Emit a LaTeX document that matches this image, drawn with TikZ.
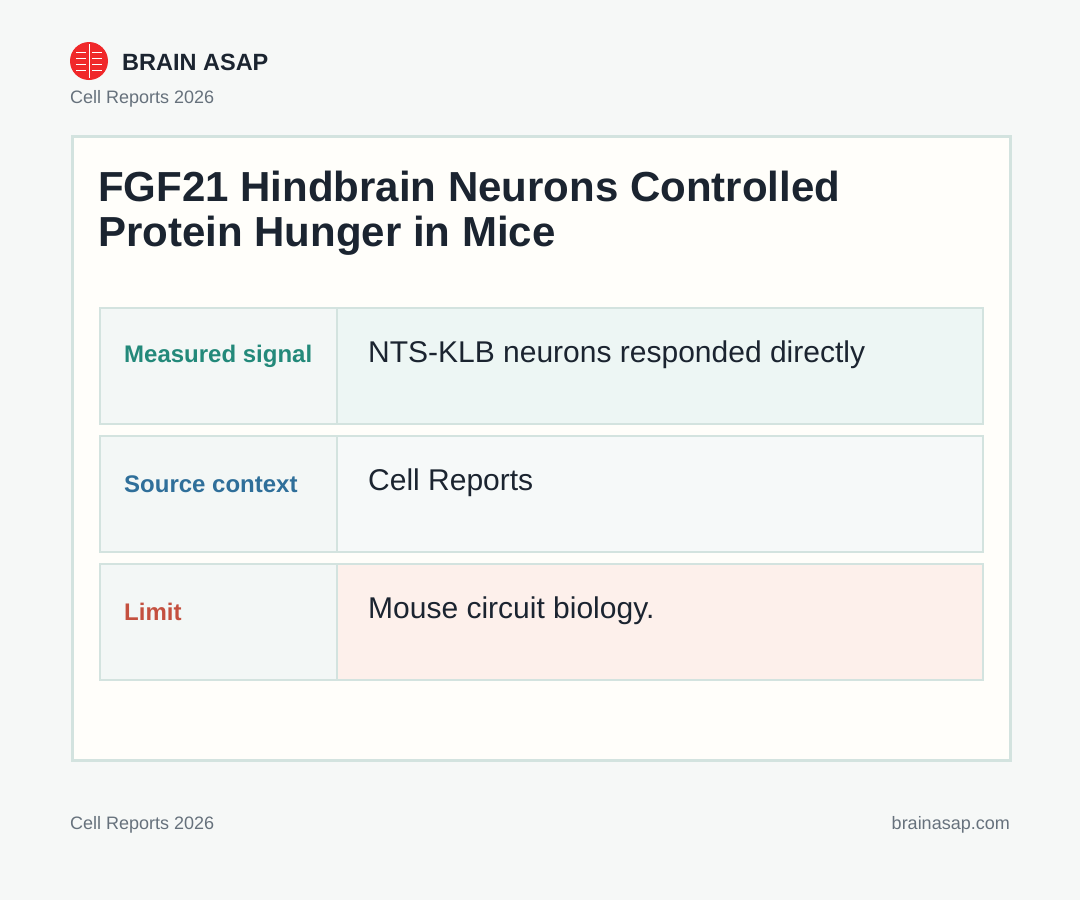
\documentclass[tikz,border=0pt]{standalone}
\usepackage{fontspec}
\setmainfont{Liberation Sans}
\usetikzlibrary{positioning}
\definecolor{pagebg}{HTML}{F6F8F7}
\definecolor{cardbg}{HTML}{FFFEFA}
\definecolor{edge}{HTML}{D3E3DF}
\definecolor{ink}{HTML}{1B2430}
\definecolor{grey}{HTML}{66717C}
\definecolor{teal}{HTML}{23897A}
\definecolor{blue}{HTML}{2F6F9A}
\definecolor{rust}{HTML}{C4503F}
\definecolor{labbg}{HTML}{F3F7F6}
\definecolor{tealbg}{HTML}{EDF6F4}
\definecolor{bluebg}{HTML}{F6F9F9}
\definecolor{rustbg}{HTML}{FDF0EB}
\definecolor{brainred}{HTML}{F0282A}
\begin{document}
\begin{tikzpicture}[x=1pt, y=-1pt,
  labcell/.style = {draw=edge, line width=1.5pt, fill=labbg, minimum width=237pt, minimum height=116pt, anchor=north west, inner sep=0pt},
  valcell/.style = {draw=edge, line width=1.5pt, minimum width=646pt, minimum height=116pt, anchor=north west, inner sep=0pt},
  labtext/.style = {font=\fontsize{24}{28}\selectfont\bfseries, anchor=west, inner sep=0pt},
  valtext/.style = {font=\fontsize{30}{36}\selectfont, text=ink, anchor=west, inner sep=0pt},
  small/.style = {font=\fontsize{18}{22}\selectfont, text=grey}]
  \fill[pagebg] (0,0) rectangle (1080,900);
  \useasboundingbox (0,0) rectangle (1080,900);
  % header
  \fill[brainred] (89,61) circle (19);
  \draw[white, line width=1pt] (89,44) -- (89,78);
  \foreach \yy in {52,58,64,70}{
    \draw[white, line width=0.7pt] (76,\yy) -- (86,\yy);
    \draw[white, line width=0.7pt] (92,\yy) -- (102,\yy);
  }
  \node[anchor=west, inner sep=0pt, font=\fontsize{23.5}{28}\selectfont\bfseries, text=ink] (brand) at (122,62) {BRAIN ASAP};
  \node[anchor=west, small, inner sep=0pt] (year) at (70,99) {Cell Reports 2026};
  % card
  \node[draw=edge, line width=2.5pt, fill=cardbg, minimum width=938pt, minimum height=624pt, anchor=north west, inner sep=0pt] (card) at (71,135) {};
  \node[anchor=north west, align=left, inner sep=0pt, font=\fontsize{42}{45}\selectfont\bfseries, text=ink] (title) at (98,171) {FGF21 Hindbrain Neurons Controlled\\Protein Hunger in Mice};
  % rows
  \node[labcell] (l1) at (99,307) {};
  \node[valcell, fill=tealbg] (v1) at (336,307) {};
  \node[labcell] (l2) at (99,435) {};
  \node[valcell, fill=bluebg] (v2) at (336,435) {};
  \node[labcell] (l3) at (99,563) {};
  \node[valcell, fill=rustbg] (v3) at (336,563) {};
  \node[labtext, text=teal] at (124,356) {Measured signal};
  \node[labtext, text=blue] at (124,484) {Source context};
  \node[labtext, text=rust] at (124,612) {Limit};
  \node[valtext] at (368,355) {NTS-KLB neurons responded directly};
  \node[valtext] at (368,483) {Cell Reports};
  \node[valtext] at (368,611) {Mouse circuit biology.};
  % footer
  \node[anchor=west, small, inner sep=0pt] (foot) at (70,825) {Cell Reports 2026};
  \node[anchor=east, small, inner sep=0pt] (site) at (1010,825) {brainasap.com};
\end{tikzpicture}
\end{document}
